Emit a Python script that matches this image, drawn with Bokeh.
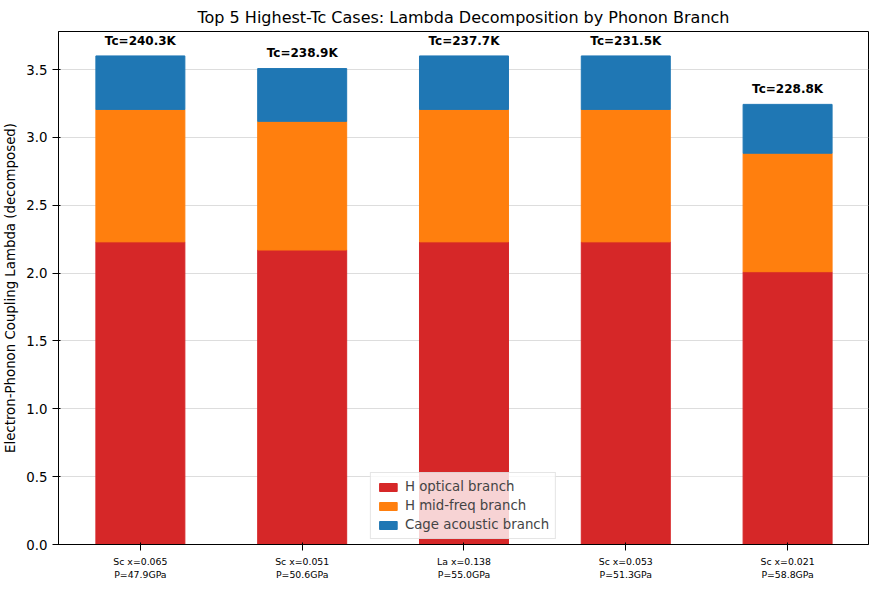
from bokeh.plotting import figure
from bokeh.models import ColumnDataSource, Range1d, Legend, LegendItem, FixedTicker
from bokeh.embed import file_html
from bokeh.resources import INLINE

cases = ["Sc x=0.065\nP=47.9GPa", "Sc x=0.051\nP=50.6GPa", "La x=0.138\nP=55.0GPa",
         "Sc x=0.053\nP=51.3GPa", "Sc x=0.021\nP=58.8GPa"]
tc = [240.3, 238.9, 237.7, 231.5, 228.8]
h_opt = [2.23, 2.17, 2.23, 2.23, 2.01]
h_mid = [0.976, 0.948, 0.976, 0.976, 0.873]
cage = [0.394, 0.389, 0.394, 0.394, 0.36]
yticks = [0, 0.5, 1, 1.5, 2, 2.5, 3, 3.5]

xs = list(range(len(cases)))
top1 = h_opt
top2 = [a + b for a, b in zip(h_opt, h_mid)]
top3 = [a + b for a, b in zip(top2, cage)]
src = ColumnDataSource(dict(x=xs, b0=[0]*5, t1=top1, t2=top2, t3=top3,
                            ly=[t + 0.06 for t in top3], lab=[f"Tc={v}K" for v in tc]))

p = figure(width=873, height=582, output_backend="svg", toolbar_location=None,
           title="Top 5 Highest-Tc Cases: Lambda Decomposition by Phonon Branch",
           x_range=Range1d(-0.506, 4.5), y_range=Range1d(0, 3.78))
p.title.align = "center"; p.title.text_font_size = "12pt"; p.title.text_font_style = "normal"
p.title.text_font = "DejaVu Sans"; p.title.text_color = "black"
w = 0.55
r1 = p.vbar(x="x", bottom="b0", top="t1", width=w, color="#d62728", source=src)
r2 = p.vbar(x="x", bottom="t1", top="t2", width=w, color="#ff7f0e", source=src)
r3 = p.vbar(x="x", bottom="t2", top="t3", width=w, color="#1f77b4", source=src)
p.text(x="x", y="ly", text="lab", source=src, text_align="center", text_baseline="bottom",
       text_font_size="9pt", text_font_style="bold", text_font={"value": "DejaVu Sans"},
       text_color="black")
p.xaxis.ticker = FixedTicker(ticks=xs)
p.xaxis.major_label_overrides = {i: c for i, c in enumerate(cases)}
p.xaxis.major_label_text_font_size = "7pt"
p.yaxis.ticker = FixedTicker(ticks=yticks)
p.yaxis.major_label_overrides = {t: f"{t:.1f}" for t in yticks}
p.yaxis.axis_label = "Electron-Phonon Coupling Lambda (decomposed)"
p.yaxis.axis_label_text_font_style = "normal"
p.yaxis.axis_label_text_font_size = "10pt"
for ax in (p.xaxis, p.yaxis):
    ax.major_label_text_font = "DejaVu Sans"
    ax.axis_label_text_font = "DejaVu Sans"
    ax.major_label_text_color = "black"
    ax.axis_label_text_color = "black"
    ax.axis_line_color = "black"
    ax.major_tick_line_color = "black"
    ax.minor_tick_line_color = None
p.yaxis.major_label_text_font_size = "10pt"
p.xgrid.grid_line_color = None
p.ygrid.grid_line_color = "#dddddd"
p.outline_line_color = "black"
leg = Legend(items=[LegendItem(label="H optical branch", renderers=[r1]),
                    LegendItem(label="H mid-freq branch", renderers=[r2]),
                    LegendItem(label="Cage acoustic branch", renderers=[r3])],
             location="bottom_center", label_text_font="DejaVu Sans",
             label_text_font_size="10pt", background_fill_alpha=0.8,
             border_line_color="#cccccc", glyph_width=22, glyph_height=10,
             label_height=12, spacing=4, padding=6, margin=5, label_standoff=6)
p.add_layout(leg)
open("out.html", "w").write(file_html(p, INLINE))
